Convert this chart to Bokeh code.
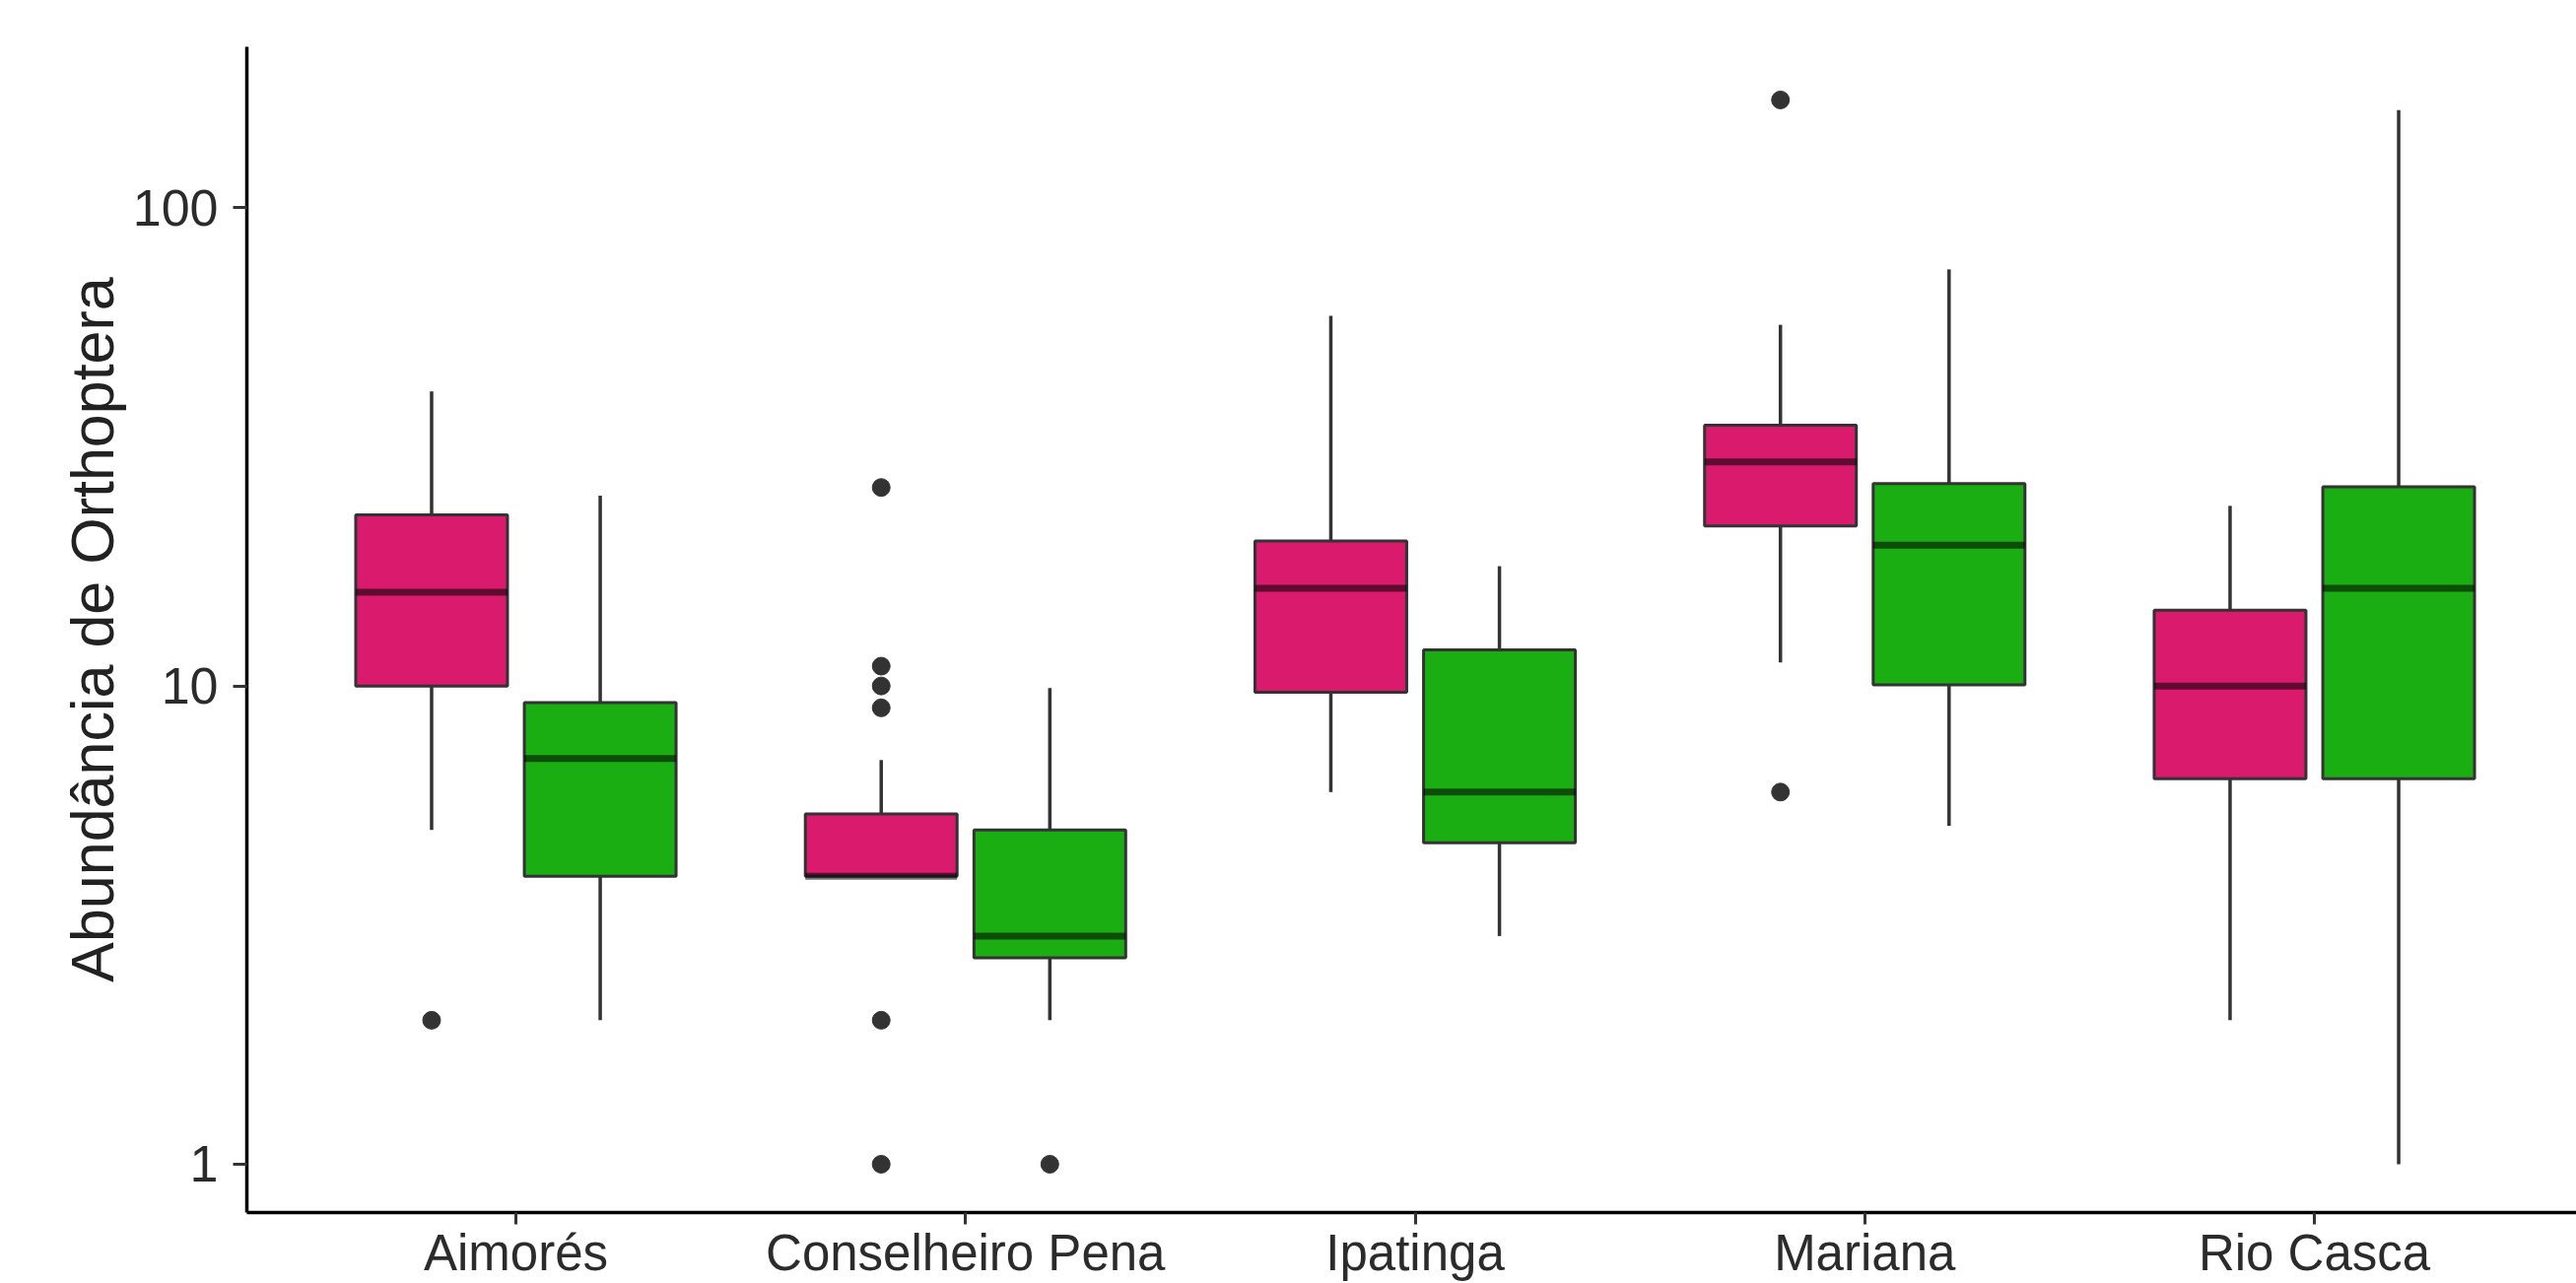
from bokeh.plotting import figure
from bokeh.models import Range1d, FixedTicker, BasicTickFormatter, ColumnDataSource
from bokeh.embed import file_html
from bokeh.resources import INLINE

# ---------------- data ----------------
categories = ["Aimorés", "Conselheiro Pena", "Ipatinga", "Mariana", "Rio Casca"]

pink_lower = [5, 4, 6, 11.2, 2]
pink_q1 = [10, 4, 9.7, 21.6, 6.4]
pink_median = [15.7, 4, 16, 29.4, 10]
pink_q3 = [22.8, 5.4, 20.1, 35.1, 14.4]
pink_upper = [41.3, 7, 59.4, 56.9, 23.8]
pink_outliers = [[2], [26, 11, 10, 9, 2, 1], [], [168, 6], []]

green_lower = [2, 2, 3, 5.1, 1]
green_q1 = [4, 2.7, 4.7, 10.05, 6.4]
green_median = [7.05, 3, 6, 19.7, 16]
green_q3 = [9.23, 5, 11.9, 26.5, 26.1]
green_upper = [25, 9.9, 17.8, 74.3, 160]
green_outliers = [[], [1], [], [], []]

y_ticks = [1, 10, 100]
y_title = "Abundância de Orthoptera"

PINK = "#DA1A6C"
GREEN = "#1BAE13"
DARK = "#333333"

# ---------------- figure ----------------
p = figure(
    width=2614, height=1302,
    x_range=Range1d(0.4016, 5.583),
    y_range=Range1d(10 ** -0.101, 10 ** 2.3364),
    y_axis_type="log",
    output_backend="svg", toolbar_location=None,
    min_border_left=250, min_border_top=47, min_border_right=0, min_border_bottom=68,
)
p.outline_line_color = None
p.xgrid.grid_line_color = None
p.ygrid.grid_line_color = None
p.background_fill_color = "white"
p.border_fill_color = "white"

dodge = 0.1875
box_w = 0.3375

def draw_group(offset, lower, q1, med, q3, upper, outliers, fill):
    xs = [i + 1 + offset for i in range(len(categories))]
    src = ColumnDataSource(dict(
        x=xs, lower=lower, q1=q1, med=med, q3=q3, upper=upper,
        xl=[x - box_w / 2 for x in xs], xr=[x + box_w / 2 for x in xs],
    ))
    # whiskers
    p.segment(x0="x", y0="q3", x1="x", y1="upper", source=src, line_color=DARK, line_width=3.5)
    p.segment(x0="x", y0="lower", x1="x", y1="q1", source=src, line_color=DARK, line_width=3.5)
    # boxes
    p.vbar(x="x", width=box_w, bottom="q1", top="q3", source=src,
           fill_color=fill, line_color=DARK, line_width=3)
    # medians
    p.segment(x0="xl", y0="med", x1="xr", y1="med", source=src,
              line_color="black", line_alpha=0.55, line_width=7)
    # outliers
    ox, oy = [], []
    for x, outs in zip(xs, outliers):
        for v in outs:
            ox.append(x)
            oy.append(v)
    if ox:
        p.scatter(ox, oy, size=18, fill_color=DARK, line_color=DARK)

draw_group(-dodge, pink_lower, pink_q1, pink_median, pink_q3, pink_upper, pink_outliers, PINK)
draw_group(dodge, green_lower, green_q1, green_median, green_q3, green_upper, green_outliers, GREEN)

# ---------------- axes ----------------
xa = p.xaxis[0]
xa.ticker = FixedTicker(ticks=[i + 1 for i in range(len(categories))])
xa.major_label_overrides = {i + 1: c for i, c in enumerate(categories)}
xa.minor_tick_line_color = None
xa.major_tick_out = 12
xa.major_tick_in = 0
xa.major_tick_line_width = 3
xa.major_tick_line_color = DARK
xa.axis_line_width = 3.5
xa.axis_line_color = "black"
xa.major_label_text_font = "Liberation Sans"
xa.major_label_text_font_size = "51px"
xa.major_label_text_color = "#2b2b2b"
xa.major_label_standoff = 0

ya = p.yaxis[0]
ya.ticker = FixedTicker(ticks=y_ticks)
ya.formatter = BasicTickFormatter()
ya.minor_tick_line_color = None
ya.major_tick_out = 14
ya.major_tick_in = 0
ya.major_tick_line_width = 3
ya.major_tick_line_color = DARK
ya.axis_line_width = 3.5
ya.axis_line_color = "black"
ya.major_label_text_font = "Liberation Sans"
ya.major_label_text_font_size = "52px"
ya.major_label_text_color = "#2b2b2b"
ya.major_label_standoff = 15
ya.axis_label = y_title
ya.axis_label_text_font = "Liberation Sans"
ya.axis_label_text_font_size = "61px"
ya.axis_label_text_font_style = "normal"
ya.axis_label_text_color = "#222222"
ya.axis_label_standoff = 4

open("out.html", "w").write(file_html(p, INLINE))
